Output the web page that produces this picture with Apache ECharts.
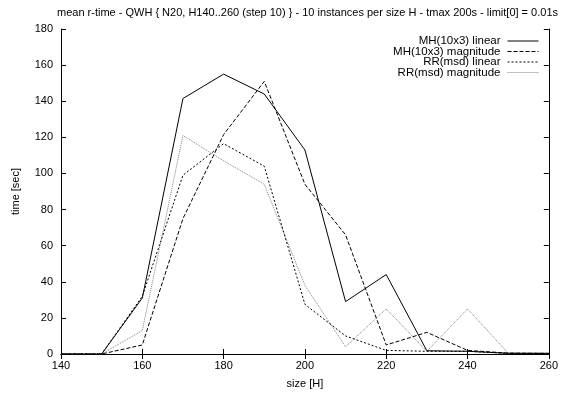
<!DOCTYPE html>
<html>
<head>
<meta charset="utf-8">
<script src="https://cdn.jsdelivr.net/npm/echarts@6/dist/echarts.min.js"></script>
<style>html,body{margin:0;padding:0;background:#fff}#c{width:561px;height:394px}</style>
</head>
<body>
<div id="c"></div>
<script>
var sizes = [140, 150, 160, 170, 180, 190, 200, 210, 220, 230, 240, 250, 260];
var mhLinear = [0, 0, 31, 141.5, 155, 144, 113, 29, 44, 1.8, 1.5, 0.4, 0.4];
var mhMagnitude = [0, 0, 5, 75, 121.5, 151, 94, 66, 5, 12, 2, 0.5, 0.3];
var rrLinear = [0, 0, 32, 99, 116.5, 104, 27.5, 10, 2, 1.5, 1.5, 0.3, 0.3];
var rrMagnitude = [0, 0, 13, 121, 107, 94, 38, 4, 25, 1.5, 25, 0.5, 0.3];
var seriesNames = ['MH(10x3) linear', 'MH(10x3) magnitude', 'RR(msd) linear', 'RR(msd) magnitude'];
var titleText = 'mean r-time - QWH { N20, H140..260 (step 10) } - 10 instances per size H - tmax 200s - limit[0] = 0.01s';

function pairs(vals) { return sizes.map(function (s, i) { return [s, vals[i]]; }); }

var FONT = '"Liberation Sans", Arial, sans-serif';
var styles = [
  { color: '#000', type: 'solid' },
  { color: '#000', type: [4, 2] },
  { color: '#000', type: [2, 2] },
  { color: '#808080', type: [1, 1] }
];
var data = [mhLinear, mhMagnitude, rrLinear, rrMagnitude];

var chart = echarts.init(document.getElementById('c'), null, { renderer: 'canvas' });
var axisCommon = {
  axisLine: { show: true, lineStyle: { color: '#000', width: 1 } },
  axisTick: { show: true, inside: true, length: 5, lineStyle: { color: '#000' } },
  splitLine: { show: false }
};
chart.setOption({
  animation: false,
  backgroundColor: '#fff',
  textStyle: { fontFamily: FONT },
  title: {
    text: titleText, left: 52, top: 2,
    textStyle: { fontSize: 11, fontWeight: 'normal', color: '#000', fontFamily: FONT }
  },
  grid: { left: 61, right: 9, top: 29, bottom: 37, containLabel: false },
  legend: {
    orient: 'vertical', right: 22, top: 35, align: 'right', padding: 0,
    icon: 'inherit',
    itemWidth: 31, itemHeight: 10, itemGap: -1.5,
    lineStyle: { width: 1 },
    itemStyle: { opacity: 0 },
    textStyle: { fontSize: 11.5, lineHeight: 10, color: '#000', fontFamily: FONT, padding: [0, 2, 0, 0] },
    data: seriesNames
  },
  xAxis: [
    Object.assign({}, axisCommon, {
      type: 'value', min: 140, max: 260, interval: 20, position: 'bottom',
      name: 'size [H]', nameLocation: 'middle', nameGap: 24,
      nameTextStyle: { fontSize: 11, color: '#000', fontFamily: FONT },
      axisLabel: { fontSize: 11, color: '#000', margin: 6, fontFamily: FONT }
    }),
    Object.assign({}, axisCommon, {
      type: 'value', min: 140, max: 260, interval: 20, position: 'top',
      axisLabel: { show: false }
    })
  ],
  yAxis: [
    Object.assign({}, axisCommon, {
      type: 'value', min: 0, max: 180, interval: 20, position: 'left',
      name: 'time [sec]', nameLocation: 'middle', nameGap: 40, nameRotate: 90,
      nameTextStyle: { fontSize: 11, color: '#000', fontFamily: FONT },
      axisLabel: { fontSize: 11, color: '#000', margin: 8, fontFamily: FONT }
    }),
    Object.assign({}, axisCommon, {
      type: 'value', min: 0, max: 180, interval: 20, position: 'right',
      axisLabel: { show: false }
    })
  ],
  series: seriesNames.map(function (n, i) {
    return {
      name: n, type: 'line', xAxisIndex: 0, yAxisIndex: 0,
      data: pairs(data[i]), symbol: 'none', showSymbol: false,
      lineStyle: { color: styles[i].color, width: 1, type: styles[i].type },
      itemStyle: { color: styles[i].color },
      z: 4 - i
    };
  })
});
</script>
</body>
</html>
